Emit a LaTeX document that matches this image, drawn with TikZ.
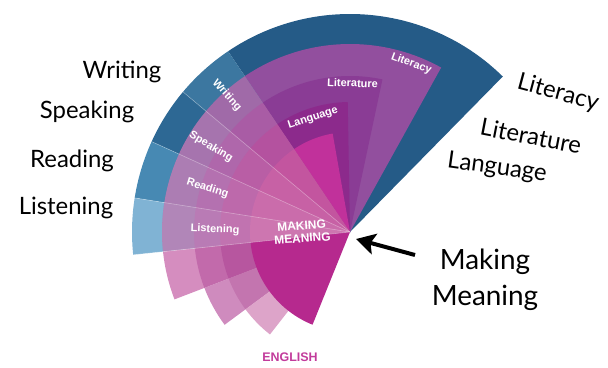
\documentclass[tikz,border=0pt]{standalone}
\usepackage{fontspec}
\setmainfont{Lato}
\newfontfamily\innerfont{Liberation Sans}
\usepackage{tikz}
\usetikzlibrary{arrows.meta}

\definecolor{bluedark}{HTML}{255B87}
\definecolor{bluewrite}{HTML}{3C77A0}
\definecolor{bluespeak}{HTML}{2D6894}
\definecolor{blueread}{HTML}{4789B3}
\definecolor{bluelisten}{HTML}{80B3D4}
\definecolor{litcy}{HTML}{924F9E}
\definecolor{litcyskill}{HTML}{A06AA8}
\definecolor{litcybot}{HTML}{D58DBF}
\definecolor{litre}{HTML}{8A3C95}
\definecolor{litreskill}{HTML}{A95CA5}
\definecolor{litrebotA}{HTML}{C26AAB}
\definecolor{litrebotB}{HTML}{CF8BBE}
\definecolor{lang}{HTML}{8C2A8C}
\definecolor{langskill}{HTML}{B4529F}
\definecolor{langbotA}{HTML}{B7569F}
\definecolor{langbotB}{HTML}{C375AF}
\definecolor{langbotC}{HTML}{DDA4C9}
\definecolor{mmtop}{HTML}{C1319B}
\definecolor{mmskill}{HTML}{C3559F}
\definecolor{mmbot}{HTML}{B6298E}
\definecolor{english}{HTML}{C23B9B}

% one piece of the fan: colour, start angle, end angle, radius
\newcommand{\fanpiece}[4]{\fill[#1] (C) -- ++(#2:#4) arc[start angle=#2, end angle=#3, radius=#4] -- cycle;}

\begin{document}
\begin{tikzpicture}[x=1bp, y=1bp,
  inlabel/.style={text=white, inner sep=0pt, font=\innerfont\bfseries\fontsize{11}{12}\selectfont},
  outlabel/.style={inner sep=0pt, font=\fontsize{24}{26}\selectfont}]
  \useasboundingbox (0,0) rectangle (608,367);
  \coordinate (C) at (350,135);

  % blue fan
  \fanpiece{bluedark}{45.5}{124}{218}
  \fanpiece{bluewrite}{124}{140}{218}
  \fanpiece{bluespeak}{140}{155.5}{218}
  \fanpiece{blueread}{155.5}{171}{218}
  \fanpiece{bluelisten}{171}{186}{218}

  % literacy card
  \fanpiece{litcy}{61}{124}{188}
  \fanpiece{litcyskill}{124}{186}{188}
  \fanpiece{litcybot}{186}{201}{188}
  % literature card
  \fanpiece{litre}{78}{124}{156}
  \fanpiece{litreskill}{124}{186}{156}
  \fanpiece{litrebotA}{186}{201}{156}
  \fanpiece{litrebotB}{201}{216.5}{156}
  % language card
  \fanpiece{lang}{91}{124}{130}
  \fanpiece{langskill}{124}{186}{130}
  \fanpiece{langbotA}{186}{201}{130}
  \fanpiece{langbotB}{201}{216.5}{130}
  \fanpiece{langbotC}{216.5}{232}{130}
  % making meaning
  \fanpiece{mmtop}{100}{124}{100}
  \fanpiece{mmskill}{124}{186}{100}
  \fanpiece{mmbot}{186}{248}{100}

  % skill bands get lighter downwards
  \fanpiece{white, opacity=.07}{140}{186}{188}
  \fanpiece{white, opacity=.07}{155.5}{186}{188}
  \fanpiece{white, opacity=.07}{171}{186}{188}
  \foreach \a in {140,155.5,171,186}
    \draw[white, opacity=.35, line width=.6bp] (C) -- ++(\a:218);

  % labels in the fan
  \node[inlabel, rotate=-48] (writing) at ([shift={(132:184)}]C) {Writing};
  \node[inlabel, rotate=-31] (speaking) at ([shift={(148.5:163)}]C) {Speaking};
  \node[inlabel, rotate=-17] (reading) at ([shift={(163:149)}]C) {Reading};
  \node[inlabel, rotate=-2] (listening) at ([shift={(179:135)}]C) {Listening};
  \node[inlabel, rotate=18] (language) at ([shift={(108:120)}]C) {Language};
  \node[inlabel, rotate=-2] (literature) at ([shift={(89:149)}]C) {Literature};
  \node[inlabel, rotate=-20] (literacy) at ([shift={(70:179)}]C) {Literacy};
  \node[inlabel, rotate=4, align=center, font=\innerfont\bfseries\fontsize{12}{12.5}\selectfont] (mm) at (302,135) {MAKING\\MEANING};

  % labels outside
  \node[outlabel] (wlab) at (122,295) {Writing};
  \node[outlabel] (slab) at (87,255) {Speaking};
  \node[outlabel] (rlab) at (72,206) {Reading};
  \node[outlabel] (llab) at (66,159) {Listening};
  \node[outlabel, rotate=-15] (lcylab) at (558,274) {Literacy};
  \node[outlabel, rotate=-11] (ltrlab) at (531,231) {Literature};
  \node[outlabel, rotate=-8] (lnglab) at (497,199) {Language};
  \node[outlabel, font=\fontsize{28}{36}\selectfont, align=center] (mmlab) at (485,87) {Making\\Meaning};

  % arrow to the centre
  \coordinate (arrowtail) at (415,112);
  \coordinate (arrowtip) at (356,128);
  \draw[line width=4bp, -{Stealth[length=19bp, width=21bp, inset=4bp]}] (arrowtail) -- (arrowtip);

  \node[text=english, font=\innerfont\bfseries\fontsize{12.5}{13}\selectfont] (eng) at (290,10) {ENGLISH};
\end{tikzpicture}
\end{document}
